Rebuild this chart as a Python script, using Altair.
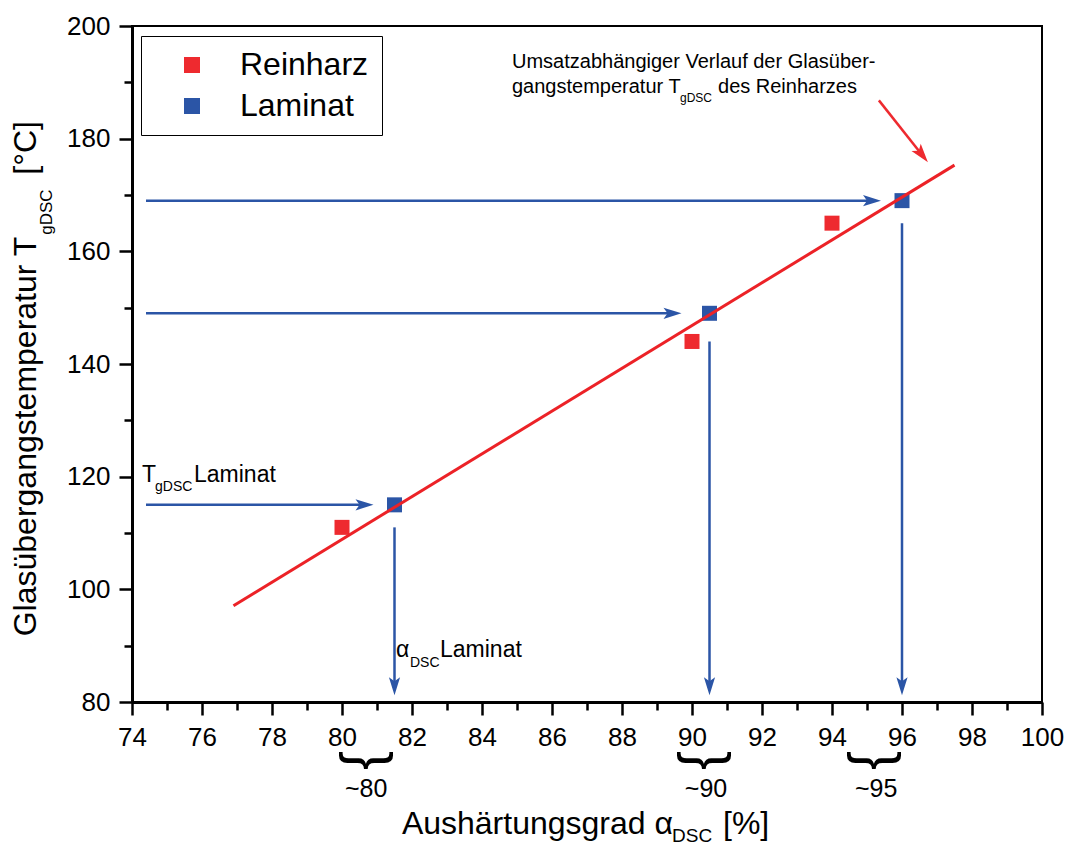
import math
import altair as alt
import pandas as pd

# ---------------- data ----------------
reinharz_x = [80, 90, 94]
reinharz_y = [111, 144, 165]
laminat_x = [81.5, 90.5, 96]
laminat_y = [115, 149, 169]

# linear trend of T_gDSC (Reinharz)
fit_x = [76.9, 97.5]
fit_y = [97.1, 175.3]

# horizontal arrows  T_gDSC Laminat -> curve
h_arrow_x0 = [74.4, 74.4, 74.4]
h_arrow_x1 = [80.9, 89.7, 95.4]
h_arrow_y = [115, 149, 169]
# vertical arrows  curve -> alpha_DSC Laminat
v_arrow_x = [81.5, 90.5, 96]
v_arrow_y0 = [111, 144, 165]
v_arrow_y1 = [81.2, 81.2, 81.2]
# red annotation arrow
red_arrow_x = [95.34, 96.74]
red_arrow_y = [186.8, 175.8]

x_ticks = list(range(74, 101))
y_ticks = list(range(80, 201, 10))

brace_x = [80.74, 90.4, 95.26]
brace_labels = ["~80", "~90", "~95"]
brace_label_x = [80.69, 90.4, 95.26]

# text annotations (x, y in data units, text, font size, angle)
texts_left = [
    (84.857, 192.62, "Umsatzabhängiger Verlauf der Glasüber-", 20, 0),
    (84.857, 188.18, "gangstemperatur T", 20, 0),
    (89.657, 186.58, "gDSC", 12, 0),
    (90.743, 188.18, "des Reinharzes", 20, 0),
    (74.286, 119.14, "T", 23, 0),
    (74.657, 117.54, "gDSC", 14, 0),
    (75.771, 119.14, "Laminat", 23, 0),
    (81.543, 87.9, "α", 23, 0),
    (81.943, 86.3, "DSC", 14, 0),
    (82.8, 87.9, "Laminat", 23, 0),
    (89.43, 55.2, "DSC", 19, 0),
    (90.886, 56.48, "[%]", 32, 0),
    (71.71, 162.95, "gDSC", 17, 270),
    (71.26, 173.6, "[°C]", 32, 270),
]
texts_right = [
    (89.457, 56.48, "Aushärtungsgrad α", 32, 0),
    (71.26, 162.6, "Glasübergangstemperatur T", 32, 270),
]

# ---------------- styling ----------------
FONT = "Liberation Sans"
RED = "#EE2A2F"
BLUE = "#2B55A6"
W, H = 910, 676
X_DOM = [74, 100]
Y_DOM = [80, 200]
px_x = W / (X_DOM[1] - X_DOM[0])
px_y = H / (Y_DOM[1] - Y_DOM[0])
HEAD_BACK = 8  # px that the shaft stops short of the tip
ARROW = "M0,0 L-2,-0.62 L-1.55,0 L-2,0.62 Z"

x_scale = alt.Scale(domain=X_DOM, nice=False, zero=False)
y_scale = alt.Scale(domain=Y_DOM, nice=False, zero=False)

x_axis = alt.Axis(
    values=x_ticks, title=None, grid=False,
    labelExpr="datum.value % 2 === 0 ? datum.label : ''",
    tickSize={"condition": {"test": "datum.value % 2 !== 0", "value": 8}, "value": 13},
    labelFontSize=26, labelFont=FONT, labelColor="black", labelPadding=9,
    labelFlush=False, labelOverlap=False,
    domainColor="black", domainWidth=3, tickColor="black", tickWidth=2.5,
)
y_axis = alt.Axis(
    values=y_ticks, title=None, grid=False,
    labelExpr="datum.value % 20 === 0 ? datum.label : ''",
    tickSize={"condition": {"test": "datum.value % 20 !== 0", "value": 8}, "value": 13},
    labelFontSize=26, labelFont=FONT, labelColor="black", labelPadding=9,
    labelFlush=False, labelOverlap=False,
    domainColor="black", domainWidth=3, tickColor="black", tickWidth=2.5,
)


def X(f="x"):
    return alt.X(f"{f}:Q", scale=x_scale, axis=x_axis)


def Y(f="y"):
    return alt.Y(f"{f}:Q", scale=y_scale, axis=y_axis)


# ---------------- frames ----------------
pts = pd.DataFrame({
    "x": reinharz_x + laminat_x,
    "y": reinharz_y + laminat_y,
    "series": ["Reinharz"] * len(reinharz_x) + ["Laminat"] * len(laminat_x),
})
fit = pd.DataFrame({"x": fit_x, "y": fit_y})

blue_rules = []
blue_heads = []
for x0, x1, y in zip(h_arrow_x0, h_arrow_x1, h_arrow_y):
    blue_rules.append({"x": x0, "x2": x1 - HEAD_BACK / px_x, "y": y, "y2": y})
    blue_heads.append({"x": x1, "y": y, "angle": 0})
for x, y0, y1 in zip(v_arrow_x, v_arrow_y0, v_arrow_y1):
    blue_rules.append({"x": x, "x2": x, "y": y0, "y2": y1 + HEAD_BACK / px_y})
    blue_heads.append({"x": x, "y": y1, "angle": 90})
blue_rules = pd.DataFrame(blue_rules)
blue_heads = pd.DataFrame(blue_heads)

dxp = (red_arrow_x[1] - red_arrow_x[0]) * px_x
dyp = (red_arrow_y[0] - red_arrow_y[1]) * px_y
red_angle = math.degrees(math.atan2(dyp, dxp))
lenp = math.hypot(dxp, dyp)
red_rule = pd.DataFrame([{
    "x": red_arrow_x[0], "y": red_arrow_y[0],
    "x2": red_arrow_x[1] - HEAD_BACK * dxp / lenp / px_x,
    "y2": red_arrow_y[1] + HEAD_BACK * dyp / lenp / px_y,
}])
red_head = pd.DataFrame([{"x": red_arrow_x[1], "y": red_arrow_y[1], "angle": red_angle}])

t_left = pd.DataFrame(texts_left, columns=["x", "y", "text", "size", "angle"])
t_right = pd.DataFrame(texts_right, columns=["x", "y", "text", "size", "angle"])
braces = pd.DataFrame({"x": brace_x, "y": [69.62] * 3, "text": ["}"] * 3})
brace_txt = pd.DataFrame({"x": brace_label_x, "y": [63.05] * 3, "text": brace_labels})

# ---------------- layers ----------------
rules_l = alt.Chart(blue_rules).mark_rule(color=BLUE, strokeWidth=2.5).encode(
    x=X(), x2="x2:Q", y=Y(), y2="y2:Q")
heads_l = alt.Chart(blue_heads).mark_point(
    shape=ARROW, filled=True, size=324, opacity=1, color=BLUE, strokeWidth=0
).encode(x=X(), y=Y(), angle=alt.Angle("angle:Q", scale=None))
red_rule_l = alt.Chart(red_rule).mark_rule(color=RED, strokeWidth=2.5).encode(
    x=X(), x2="x2:Q", y=Y(), y2="y2:Q")
red_head_l = alt.Chart(red_head).mark_point(
    shape=ARROW, filled=True, size=361, opacity=1, color=RED, strokeWidth=0
).encode(x=X(), y=Y(), angle=alt.Angle("angle:Q", scale=None))

points_l = alt.Chart(pts).mark_point(
    shape="square", filled=True, size=225, opacity=1, strokeWidth=0
).encode(
    x=X(), y=Y(),
    color=alt.Color(
        "series:N",
        scale=alt.Scale(domain=["Reinharz", "Laminat"], range=[RED, BLUE]),
        legend=alt.Legend(
            title=None, orient="none", legendX=9, legendY=10,
            symbolType="square", symbolSize=256, symbolStrokeWidth=0,
            symbolOpacity=1,
            labelFont=FONT, labelFontSize=32, labelColor="black",
            padding=13, symbolOffset=22, labelOffset=32, rowPadding=9,
            strokeColor="black", fillColor="white",
        ),
    ),
)
fit_l = alt.Chart(fit).mark_line(color="#EC2227", strokeWidth=3).encode(x=X(), y=Y())

txt_left_l = alt.Chart(t_left).mark_text(
    font=FONT, color="black", align="left", baseline="alphabetic"
).encode(x=X(), y=Y(), text="text:N",
         size=alt.Size("size:Q", scale=None), angle=alt.Angle("angle:Q", scale=None))
txt_right_l = alt.Chart(t_right).mark_text(
    font=FONT, color="black", align="right", baseline="alphabetic"
).encode(x=X(), y=Y(), text="text:N",
         size=alt.Size("size:Q", scale=None), angle=alt.Angle("angle:Q", scale=None))
braces_l = alt.Chart(braces).mark_text(
    font=FONT, color="black", align="center", baseline="middle", fontSize=57, angle=90
).encode(x=X(), y=Y(), text="text:N")
brace_txt_l = alt.Chart(brace_txt).mark_text(
    font=FONT, color="black", align="center", baseline="alphabetic", fontSize=25
).encode(x=X(), y=Y(), text="text:N")

chart = alt.layer(
    rules_l, heads_l, red_rule_l, red_head_l, points_l, fit_l,
    txt_left_l, txt_right_l, braces_l, brace_txt_l,
).properties(
    width=W, height=H,
    autosize=alt.AutoSizeParams(type="none"),
    padding={"left": 132, "top": 26, "right": 25, "bottom": 143},
    background="white",
).configure(font=FONT).configure_view(stroke="black", strokeWidth=2)

chart.save("out.html", embed_options={"renderer": "svg", "actions": False})
